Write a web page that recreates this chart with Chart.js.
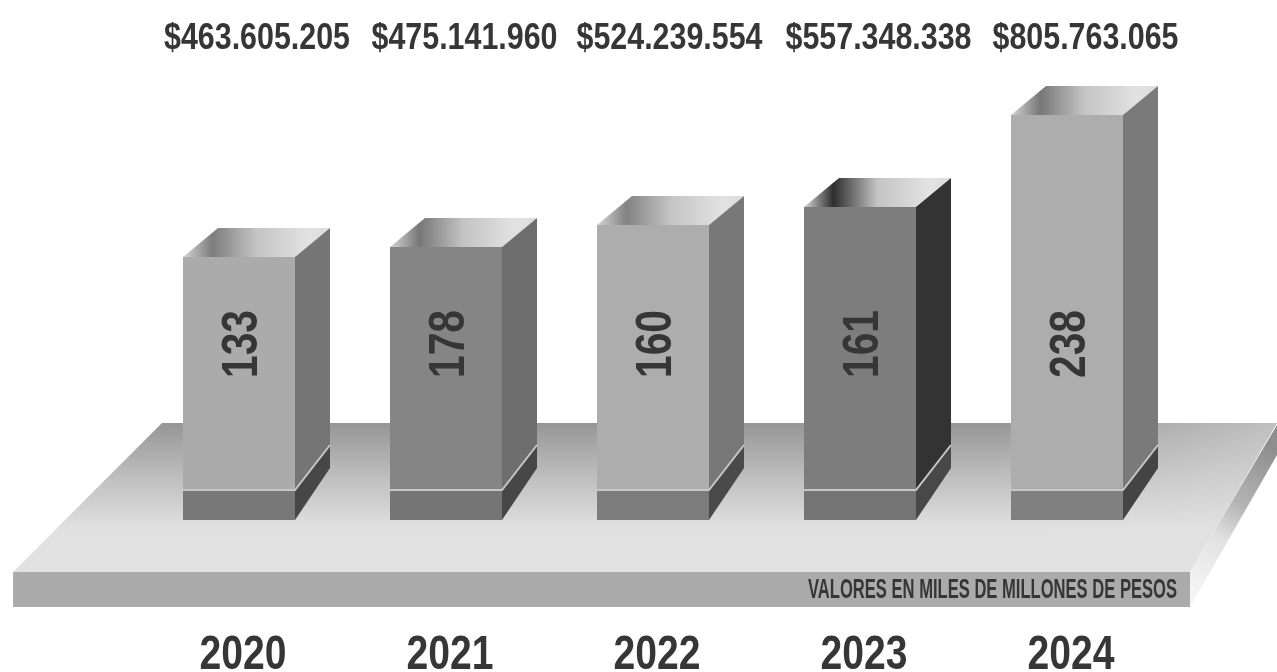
<!DOCTYPE html>
<html>
<head>
<meta charset="utf-8">
<title>Valores 2020-2024</title>
<script src="https://cdn.jsdelivr.net/npm/chart.js@4"></script>
<style>
  html, body { margin: 0; padding: 0; background: #fff; }
  canvas { display: block; }
</style>
</head>
<body>
<canvas id="myChart" width="1277" height="672"></canvas>
<script>
// data
const years = ['2020', '2021', '2022', '2023', '2024'];
const amounts = ['$463.605.205', '$475.141.960', '$524.239.554', '$557.348.338', '$805.763.065'];
const barValues = ['133', '178', '160', '161', '238'];
// drawn height of each column: the drawing is not to scale with the amounts
const barLevels = [263, 273, 295, 313, 405];
const note = 'VALORES EN MILES DE MILLONES DE PESOS';

const frontColors = ['#ababab', '#858585', '#adadad', '#7d7d7d', '#adadad'];
const sideColors = ['#757575', '#6e6e6e', '#787878', '#333333', '#7a7a7a'];
const plinthColors = ['#787878', '#757575', '#7c7c7c', '#747474', '#808080'];
const plinthSideColors = ['#474747', '#474747', '#4a4a4a', '#484848', '#444444'];
const topDarks = ['#7d7d7d', '#777777', '#828282', '#2e2e2e', '#777777'];

const FONT = '"Liberation Sans", sans-serif';
const INK = '#363636';
const DEPTH = 35, RISE_TOP = 29, RISE_BOTTOM = 52, RISE_LINE = 45, PLINTH = 30;

function poly(ctx, pts, fill) {
    ctx.beginPath();
    pts.forEach(function (p, i) {
        if (i === 0) ctx.moveTo(p[0], p[1]); else ctx.lineTo(p[0], p[1]);
    });
    ctx.closePath();
    ctx.fillStyle = fill;
    ctx.fill();
}

// platform under the columns
function drawFloor(ctx) {
    let g = ctx.createLinearGradient(0, 423, 0, 572);
    g.addColorStop(0, '#969696');
    g.addColorStop(0.35, '#bdbdbd');
    g.addColorStop(0.7, '#e0e0e0');
    g.addColorStop(1, '#e2e2e2');
    poly(ctx, [[162, 423], [1277, 423], [1190, 572], [13, 572]], g);

    // right end of the platform fades out
    g = ctx.createLinearGradient(1000, 0, 1277, 0);
    g.addColorStop(0, 'rgba(226,226,226,0)');
    g.addColorStop(1, 'rgba(226,226,226,0.55)');
    poly(ctx, [[1000, 423], [1277, 423], [1190, 572], [1000, 572]], g);

    g = ctx.createLinearGradient(1195, 590, 1277, 450);
    g.addColorStop(0, '#f4f4f4');
    g.addColorStop(0.35, '#e2e2e2');
    g.addColorStop(0.6, '#b4b4b4');
    g.addColorStop(1, '#8e8e8e');
    poly(ctx, [[1190, 572], [1277, 425], [1277, 455], [1190, 607]], g);

    poly(ctx, [[13, 572], [1190, 572], [1190, 607], [13, 607]], '#ababab');
}

const columns3d = {
    id: 'columns3d',
    beforeDatasetsDraw(chart) {
        drawFloor(chart.ctx);
    },
    afterDatasetsDraw(chart) {
        const ctx = chart.ctx;
        const xScale = chart.scales.x;
        chart.getDatasetMeta(0).data.forEach(function (bar, i) {
            const half = bar.width / 2;
            const l = bar.x - half, r = bar.x + half;
            const top = bar.y, base = bar.base;
            const seam = base - PLINTH;

            // top face
            const g = ctx.createLinearGradient(l, 0, r + DEPTH, 0);
            g.addColorStop(0, '#d4d4d4');
            g.addColorStop(0.2, topDarks[i]);
            g.addColorStop(0.5, '#c4c4c4');
            g.addColorStop(0.85, '#e2e2e2');
            g.addColorStop(1, '#dcdcdc');
            poly(ctx, [[l, top], [l + DEPTH, top - RISE_TOP], [r + DEPTH, top - RISE_TOP], [r, top]], g);

            // right side, upper part and plinth
            poly(ctx, [[r, top], [r + DEPTH, top - RISE_TOP], [r + DEPTH, seam - RISE_LINE], [r, seam]], sideColors[i]);
            poly(ctx, [[r, seam], [r + DEPTH, seam - RISE_LINE], [r + DEPTH, base - RISE_BOTTOM], [r, base]], plinthSideColors[i]);

            // plinth front and the light seam above it
            poly(ctx, [[l, seam], [r, seam], [r, base], [l, base]], plinthColors[i]);
            ctx.strokeStyle = '#c6c6c6';
            ctx.lineWidth = 2;
            ctx.beginPath();
            ctx.moveTo(l, seam);
            ctx.lineTo(r, seam);
            ctx.lineTo(r + DEPTH, seam - RISE_LINE);
            ctx.stroke();

            // value written up the column
            ctx.save();
            ctx.translate(bar.x + 3, 344);
            ctx.rotate(-Math.PI / 2);
            ctx.font = 'bold 50px ' + FONT;
            ctx.fillStyle = INK;
            ctx.textAlign = 'center';
            ctx.textBaseline = 'middle';
            ctx.fillText(barValues[i], 0, 1, 68);
            ctx.restore();

            ctx.textAlign = 'center';
            ctx.textBaseline = 'middle';
            ctx.fillStyle = INK;

            // amount above the column
            ctx.font = 'bold 36px ' + FONT;
            ctx.fillText(amounts[i], bar.x + [18, 18.5, 16.5, 18.5, 18.5][i], 39, 186);

            // year, squeezed to the narrow width of the original lettering
            ctx.font = 'bold 48px ' + FONT;
            ctx.fillText(years[i], xScale.getPixelForTick(i) + 4, 656, 87);
        });

        ctx.font = 'bold 27px ' + FONT;
        ctx.fillStyle = INK;
        ctx.textAlign = 'left';
        ctx.textBaseline = 'middle';
        ctx.fillText(note, 808, 591, 369);
    }
};

new Chart(document.getElementById('myChart').getContext('2d'), {
    type: 'bar',
    data: {
        labels: years,
        datasets: [{
            data: barLevels,
            backgroundColor: frontColors,
            borderWidth: 0,
            categoryPercentage: 1,
            barPercentage: 112 / 207
        }]
    },
    plugins: [columns3d],
    options: {
        responsive: false,
        animation: false,
        layout: { padding: { left: 135.5, right: 106.5, top: 0, bottom: 0 } },
        plugins: { legend: { display: false }, tooltip: { enabled: false } },
        scales: {
            x: {
                grid: { display: false },
                border: { display: false },
                afterFit(scale) { scale.height = 152; },
                ticks: { display: false }
            },
            y: { display: false, min: 0, max: 520 }
        }
    }
});
</script>
</body>
</html>
